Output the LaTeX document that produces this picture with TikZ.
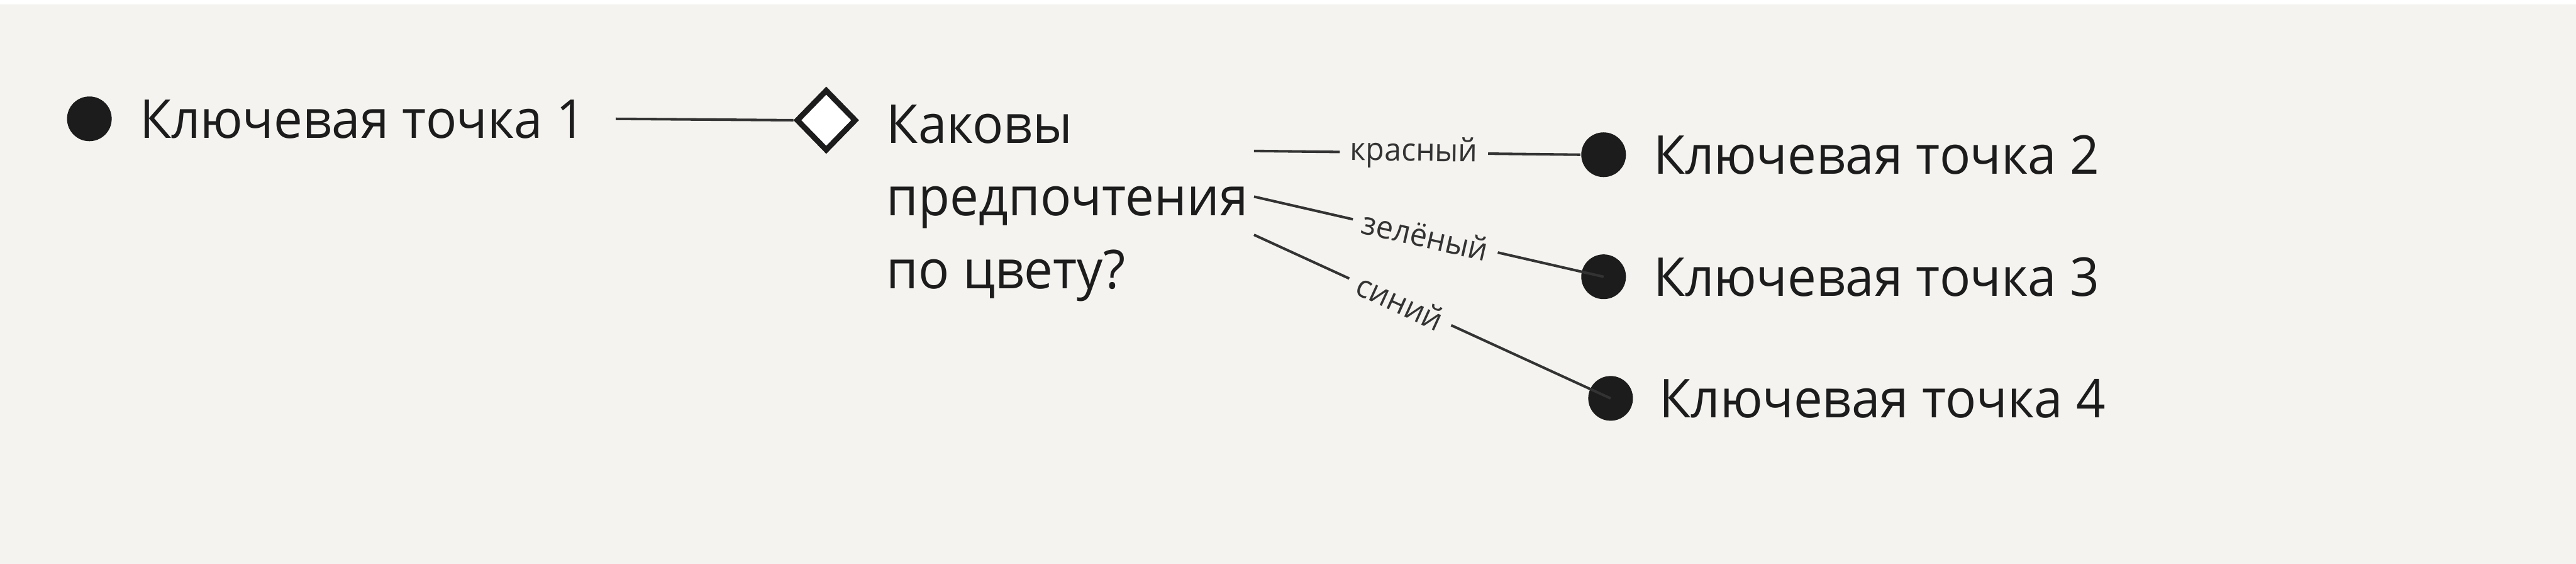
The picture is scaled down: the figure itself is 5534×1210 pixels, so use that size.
\documentclass[tikz,border=0pt]{standalone}
\usepackage{fontspec}
\setmainfont{Open Sans}[FakeStretch=0.96]
\usetikzlibrary{shapes.geometric}
\definecolor{bgc}{HTML}{F4F3EF}
\definecolor{ink}{HTML}{1C1C1C}
\definecolor{edgec}{HTML}{333333}
\begin{document}
\begin{tikzpicture}[x=0.1pt,y=-0.1pt,
  dotnode/.style={circle,fill=ink,minimum size=9.6pt,inner sep=0pt},
  keytext/.style={anchor=base west,inner sep=0pt,text=ink,font=\fontsize{11.5}{13}\selectfont},
  decision/.style={diamond,draw=ink,fill=white,line width=1.2pt,minimum width=12.9pt,minimum height=13.2pt,inner sep=0pt},
  conn/.style={draw=edgec,line width=0.55pt},
  lab/.style={fill=bgc,text=edgec,font=\fontsize{6.8}{8}\selectfont,inner xsep=2.2pt,inner ysep=0.5pt,sloped}]
\useasboundingbox (0,0) rectangle (5534,1210);
\fill[white] (0,0) rectangle (5534,10);
\fill[bgc] (0,10) rectangle (5534,1210);

\node[dotnode] (d1) at (192,255) {};
\node[keytext] (t1) at (298,297) {Ключевая точка 1};
\node[decision] (dia) at (1775,258) {};
\node[anchor=base west,align=left,inner sep=0pt,text=ink,font=\fontsize{11.5}{15.6}\selectfont] (q) at (1903,619) {Каковы\\предпочтения\\по цвету?};

\node[dotnode] (d2) at (3445,332) {};
\node[keytext] (t2) at (3550,374) {Ключевая точка 2};
\node[dotnode] (d3) at (3445,594) {};
\node[keytext] (t3) at (3550,636) {Ключевая точка 3};
\node[dotnode] (d4) at (3460,855) {};
\node[keytext] (t4) at (3563,896) {Ключевая точка 4};

\coordinate (c1) at (1323,255);
\coordinate (qa) at (2694,324);
\coordinate (qb) at (2694,422);
\coordinate (qc) at (2694,504);

\draw[conn] (c1) -- (dia.west);
\draw[conn] (qa) -- node[lab,pos=0.49] {красный} (d2.west);
\draw[conn] (qb) -- node[lab,pos=0.49] {зелёный} (d3.center);
\draw[conn] (qc) -- node[lab,pos=0.41] {синий} (d4.center);
\end{tikzpicture}
\end{document}
